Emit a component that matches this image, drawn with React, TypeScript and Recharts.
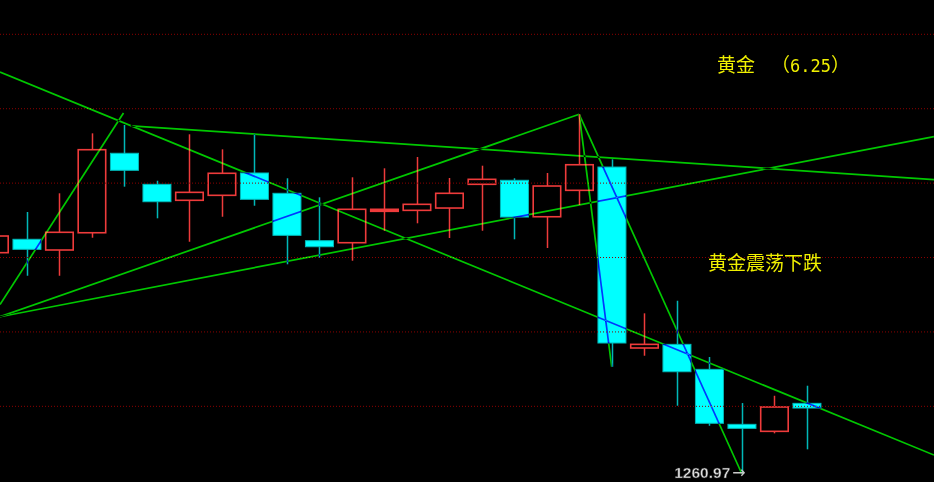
import { Bar, ComposedChart, ReferenceDot, ReferenceLine, XAxis, YAxis } from "recharts";

const OPEN = [
  1290.65, 1292.45, 1291.01, 1293.33, 1304.01, 1299.84, 1297.69, 1298.36, 1301.36, 1298.63, 1292.26,
  1291.99, 1296.21, 1296.34, 1296.65, 1299.84, 1300.38, 1295.48, 1299.03, 1302.16, 1277.84, 1278.33,
  1274.97, 1267.58, 1266.64, 1270.4,
];
const HIGH = [
  1293.97, 1296.12, 1298.63, 1306.69, 1307.81, 1300.32, 1306.56, 1304.54, 1306.56, 1300.65, 1298.09,
  1300.78, 1301.99, 1303.51, 1300.69, 1302.34, 1300.65, 1301.36, 1309.25, 1303.2, 1282.5, 1284.19,
  1276.63, 1270.44, 1271.42, 1272.77,
];
const LOW = [
  1289.4, 1287.55, 1287.55, 1292.66, 1299.52, 1295.27, 1292.12, 1295.48, 1296.96, 1289.09, 1289.97,
  1289.57, 1293.6, 1294.6, 1292.62, 1293.6, 1292.45, 1291.28, 1297.06, 1275.32, 1276.8, 1270.08,
  1267.39, 1260.97, 1266.37, 1264.22,
];
const CLOSE = [
  1292.89, 1291.1, 1293.39, 1304.49, 1301.72, 1297.5, 1298.76, 1301.32, 1297.82, 1292.98, 1291.45,
  1296.48, 1296.48, 1297.15, 1298.63, 1300.51, 1295.44, 1299.61, 1302.47, 1278.51, 1278.33, 1274.65,
  1267.72, 1267.04, 1269.91, 1269.77,
];

const GRID_LEVELS = [1270, 1280, 1290, 1300, 1310, 1320];

// trend lines: [x1, price1, x2, price2] in bar-index units
const TREND_LINES = [
  [0.1785, 1314.93, 28.917, 1263.45],
  [0.1785, 1283.68, 3.978, 1309.42],
  [4.2, 1307.7, 28.917, 1300.48],
  [0.1785, 1282.04, 18, 1309.25],
  [0.1785, 1282.04, 28.917, 1306.26],
  [18, 1309.25, 19, 1275.32],
  [18, 1309.25, 23, 1260.97],
];

const LOW_MARK_INDEX = 23;
const LOW_MARK_VALUE = 1260.97;

const X_DOMAIN = [0.1785, 28.917];
const Y_DOMAIN = [1259.83, 1324.61];

const candles = OPEN.map((open, i) => ({
  i,
  open,
  high: HIGH[i],
  low: LOW[i],
  close: CLOSE[i],
}));

const UP_COLOR = "#ee3b3b";
const DOWN_FILL = "#00ffff";
const DOWN_EDGE = "#00b8b8";
const LINE_COLOR = "#00c800";

function Candle(props: any) {
  const { x, y, width, height, payload } = props;
  const { open, close, high, low } = payload;
  const top = Math.min(y, y + height);
  const h = Math.abs(height);
  const ratio = high === low ? 0 : h / (high - low);
  const bodyTop = top + (high - Math.max(open, close)) * ratio;
  const bodyBottom = top + (high - Math.min(open, close)) * ratio;
  const cx = Math.round(x + width / 2) + 0.5;
  const bodyH = Math.max(bodyBottom - bodyTop, 1);

  if (close >= open) {
    const thin = bodyH < 3;
    return (
      <g>
        <line x1={cx} x2={cx} y1={top} y2={bodyTop} stroke={UP_COLOR} strokeWidth={1.5} />
        <line x1={cx} x2={cx} y1={bodyTop + bodyH} y2={top + h} stroke={UP_COLOR} strokeWidth={1.5} />
        <rect
          x={x + 0.75}
          y={bodyTop}
          width={width - 1.5}
          height={bodyH}
          fill={thin ? UP_COLOR : "none"}
          stroke={UP_COLOR}
          strokeWidth={1.6}
        />
      </g>
    );
  }
  return (
    <g>
      <line x1={cx} x2={cx} y1={top} y2={top + h} stroke={DOWN_EDGE} strokeWidth={1.5} />
      <rect
        x={x + 0.5}
        y={bodyTop}
        width={width - 1}
        height={bodyH}
        fill={DOWN_FILL}
        stroke={DOWN_EDGE}
        strokeWidth={1}
      />
    </g>
  );
}

function LowLabel(props: any) {
  const { viewBox } = props;
  const cx = viewBox.x + viewBox.width / 2;
  const cy = viewBox.y + viewBox.height / 2 - 2;
  return (
    <text
      x={cx + 4}
      y={cy}
      textAnchor="end"
      dominantBaseline="central"
      style={{ fontFamily: "'Liberation Sans', Arial, sans-serif" }}
    >
      <tspan fill="#e4e4e4" stroke="#303030" strokeWidth={0.5} fontSize={15.5} fontWeight={700}>
        {LOW_MARK_VALUE.toFixed(2)}
      </tspan>
      <tspan dx={2} fill="#c8c8c8" fontSize={16} fontFamily="'DejaVu Sans', sans-serif">
        →
      </tspan>
    </text>
  );
}

const titleStyle = {
  position: "absolute" as const,
  color: "#f0f000",
  fontFamily: "'Noto Sans CJK SC', sans-serif",
  fontSize: 19,
  lineHeight: "19px",
  whiteSpace: "pre" as const,
  pointerEvents: "none" as const,
};

export default function App() {
  return (
    <div
      style={{
        position: "absolute",
        left: 0,
        top: 0,
        width: 934,
        height: 482,
        background: "#000",
        overflow: "hidden",
      }}
    >
      <ComposedChart width={934} height={482} data={candles} margin={{ top: 0, right: 0, bottom: 0, left: 0 }}>
        <XAxis type="number" dataKey="i" domain={X_DOMAIN} allowDataOverflow hide />
        <YAxis type="number" domain={Y_DOMAIN} allowDataOverflow hide />
        {GRID_LEVELS.map((v) => (
          <ReferenceLine key={v} y={v} stroke="#8c0000" strokeDasharray="1 2" strokeWidth={1} ifOverflow="visible" />
        ))}
        <Bar
          dataKey={(d: any) => [d.low, d.high]}
          barSize={29}
          shape={<Candle />}
          isAnimationActive={false}
        />
        {TREND_LINES.map(([x1, y1, x2, y2], k) => (
          <ReferenceLine
            key={`t${k}`}
            segment={[
              { x: x1, y: y1 },
              { x: x2, y: y2 },
            ]}
            ifOverflow="visible"
            shape={(p: any) => (
              <line
                x1={p.x1}
                y1={p.y1}
                x2={p.x2}
                y2={p.y2}
                stroke={LINE_COLOR}
                strokeWidth={1.7}
                style={{ mixBlendMode: "difference" }}
              />
            )}
          />
        ))}
        <ReferenceDot
          x={LOW_MARK_INDEX}
          y={LOW_MARK_VALUE}
          r={0}
          fill="none"
          stroke="none"
          ifOverflow="visible"
          label={<LowLabel />}
        />
      </ComposedChart>
      <div style={{ ...titleStyle, left: 717, top: 54 }}>黄金</div>
      <div style={{ ...titleStyle, left: 771, top: 54 }}>
        （<span style={{ fontFamily: "'DejaVu Sans Mono', monospace", fontSize: 17 }}>6.25</span>）
      </div>
      <div style={{ ...titleStyle, left: 708, top: 252 }}>黄金震荡下跌</div>
    </div>
  );
}
